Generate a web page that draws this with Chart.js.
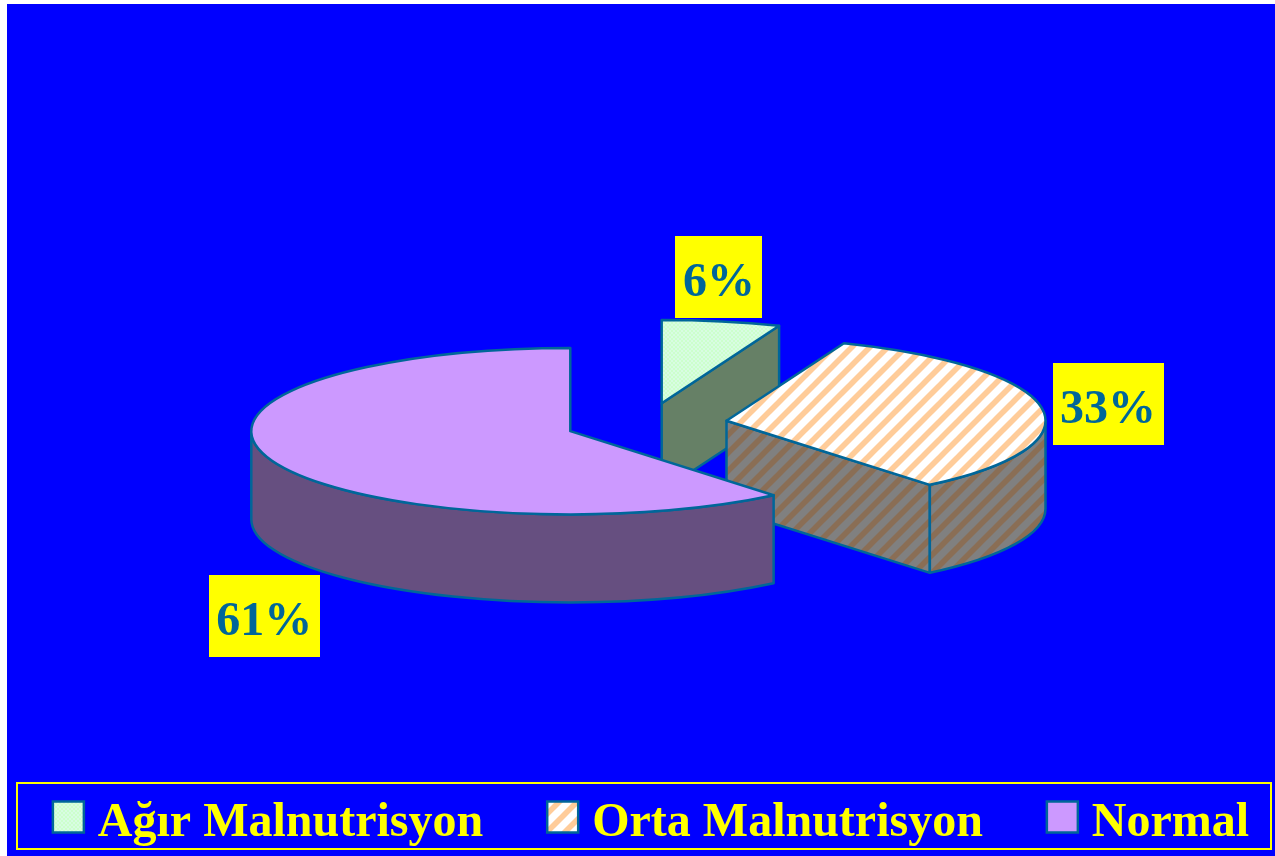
<!DOCTYPE html>
<html>
<head>
<meta charset="utf-8">
<style>
html,body{margin:0;padding:0;background:#fff;overflow:hidden;}
#wrap{position:absolute;left:7px;top:4px;width:1268px;height:852px;}
canvas{display:block;}
</style>
<script src="https://cdn.jsdelivr.net/npm/chart.js@4/dist/chart.umd.min.js"></script>
</head>
<body>
<div id="wrap"><canvas id="c" width="1268" height="852"></canvas></div>
<script>
const categories = ['Ağır Malnutrisyon', 'Orta Malnutrisyon', 'Normal'];
const values = [6, 33, 61];

const SERIF = '"Liberation Serif","Times New Roman",serif';
const EDGE = '#006699';

function stripes(base, stripe) {
  const s = 18, t = document.createElement('canvas');
  t.width = s; t.height = s;
  const g = t.getContext('2d');
  g.fillStyle = base; g.fillRect(0, 0, s, s);
  g.strokeStyle = stripe; g.lineWidth = 5.6;
  for (let i = -1; i <= 1; i++) {
    g.beginPath();
    g.moveTo(i * s - 2, s + 2);
    g.lineTo(i * s + s + 2, -2);
    g.stroke();
  }
  return g.createPattern(t, 'repeat');
}
function dither(a, b) {
  const t = document.createElement('canvas');
  t.width = 4; t.height = 4;
  const g = t.getContext('2d');
  g.fillStyle = a; g.fillRect(0, 0, 4, 4);
  g.fillStyle = b; g.fillRect(0, 0, 2, 2); g.fillRect(2, 2, 2, 2);
  return g.createPattern(t, 'repeat');
}
const topColors = [dither('#ccffcc', '#d8fce2'), stripes('#ffffff', '#ffcc99'), '#cc99ff'];
const sideColors = ['#668066', stripes('#808080', '#8a6e55'), '#664f80'];

const pie3d = {
  id: 'pie3d',
  geometry(chart, arc, opts) {
    const R = arc.outerRadius, ry = R * opts.tilt;
    const mid = (arc.startAngle + arc.endAngle) / 2;
    return {
      R, ry, mid, a0: arc.startAngle, a1: arc.endAngle,
      cx: arc.x + opts.shiftX + opts.explode * Math.cos(mid),
      cy: arc.y + opts.explode * opts.tilt * Math.sin(mid)
    };
  },
  beforeDatasetDraw(chart, args, opts) {
    const ctx = chart.ctx, meta = chart.getDatasetMeta(args.index);
    const D = opts.depth;
    ctx.save();
    ctx.lineJoin = 'round';
    ctx.lineWidth = opts.edgeWidth;
    ctx.strokeStyle = EDGE;
    meta.data.forEach((arc, i) => {
      const g = this.geometry(chart, arc, opts);
      const px = a => g.cx + g.R * Math.cos(a), py = a => g.cy + g.ry * Math.sin(a);
      ctx.fillStyle = sideColors[i];
      if (Math.cos(g.a1) > 1e-6) {
        ctx.beginPath();
        ctx.moveTo(g.cx, g.cy);
        ctx.lineTo(px(g.a1), py(g.a1));
        ctx.lineTo(px(g.a1), py(g.a1) + D);
        ctx.lineTo(g.cx, g.cy + D);
        ctx.closePath(); ctx.fill(); ctx.stroke();
      }
      const s = Math.max(g.a0, 0), e = Math.min(g.a1, Math.PI);
      if (e > s) {
        ctx.beginPath();
        ctx.ellipse(g.cx, g.cy, g.R, g.ry, 0, s, e);
        ctx.ellipse(g.cx, g.cy + D, g.R, g.ry, 0, e, s, true);
        ctx.closePath(); ctx.fill(); ctx.stroke();
      }
      ctx.fillStyle = topColors[i];
      ctx.beginPath();
      ctx.moveTo(g.cx, g.cy);
      ctx.ellipse(g.cx, g.cy, g.R, g.ry, 0, g.a0, g.a1);
      ctx.closePath(); ctx.fill(); ctx.stroke();
    });
    ctx.restore();
    return false;
  },
  afterDatasetsDraw(chart, args, opts) {
    const ctx = chart.ctx, meta = chart.getDatasetMeta(0);
    ctx.save();
    ctx.font = opts.labelFont;
    ctx.textAlign = 'center';
    ctx.textBaseline = 'alphabetic';
    meta.data.forEach((arc, i) => {
      const g = this.geometry(chart, arc, opts);
      const txt = values[i] + '%';
      const ax = g.cx + g.R * Math.cos(g.mid) + opts.labelShift[i][0];
      const ay = g.cy + g.ry * Math.sin(g.mid) + opts.labelShift[i][1];
      const w = ctx.measureText(txt).width + opts.labelPadX * 2, h = opts.labelHeight;
      ctx.fillStyle = '#ffff00';
      ctx.fillRect(Math.round(ax - w / 2), Math.round(ay - h / 2), Math.round(w), h);
      ctx.fillStyle = EDGE;
      ctx.fillText(txt, ax, ay + opts.labelBaseline);
    });
    ctx.restore();
  },
  afterDraw(chart, args, opts) {
    const ctx = chart.ctx, hits = chart.legend.legendHitBoxes, f = opts.legendFrame, b = opts.legendBox;
    ctx.save();
    ctx.strokeStyle = '#ffff00';
    ctx.lineWidth = 2;
    ctx.strokeRect(f.x, f.y, f.w, f.h);
    ctx.lineWidth = 2.5;
    ctx.strokeStyle = EDGE;
    hits.forEach((h, i) => {
      const top = h.top + h.height / 2 - b.h / 2 + b.dy;
      ctx.fillStyle = topColors[i];
      ctx.fillRect(h.left, top, b.w, b.h);
      ctx.strokeRect(h.left, top, b.w, b.h);
    });
    ctx.restore();
  }
};

new Chart(document.getElementById('c'), {
  type: 'pie',
  plugins: [pie3d, {
    id: 'paper',
    beforeDraw(chart) {
      chart.ctx.save();
      chart.ctx.fillStyle = '#0000ff';
      chart.ctx.fillRect(0, 0, chart.width, chart.height);
      chart.ctx.restore();
    }
  }],
  data: {
    labels: categories,
    datasets: [{
      data: values,
      backgroundColor: topColors,
      borderColor: EDGE,
      borderWidth: 2,
      hoverOffset: 0
    }]
  },
  options: {
    responsive: false,
    animation: false,
    radius: 319,
    layout: { padding: { left: -40, right: -60, top: 108, bottom: -2 } },
    plugins: {
      tooltip: { enabled: false },
      title: { display: false },
      legend: {
        display: true,
        position: 'bottom',
        labels: {
          color: '#ffff00',
          font: { family: SERIF, size: 48, weight: 'bold' },
          boxWidth: 21,
          boxHeight: 31,
          padding: 64,
          generateLabels(chart) {
            return categories.map((text, i) => ({
              text, index: i, fillStyle: 'rgba(0,0,0,0)', strokeStyle: 'rgba(0,0,0,0)',
              lineWidth: 0, fontColor: '#ffff00', hidden: false
            }));
          }
        }
      },
      pie3d: {
        tilt: 0.261,
        depth: 88,
        explode: 81,
        shiftX: 5.5,
        edgeWidth: 2.5,
        labelFont: 'bold 48px ' + SERIF,
        labelPadX: 7.5,
        labelHeight: 82,
        labelBaseline: 19,
        labelShift: [[-2.5, -44], [66.5, -4], [-6, 157]],
        legendFrame: { x: 10, y: 779, w: 1254, h: 66 },
        legendBox: { w: 31, h: 31, dy: -7 }
      }
    }
  }
});
</script>
</body>
</html>
